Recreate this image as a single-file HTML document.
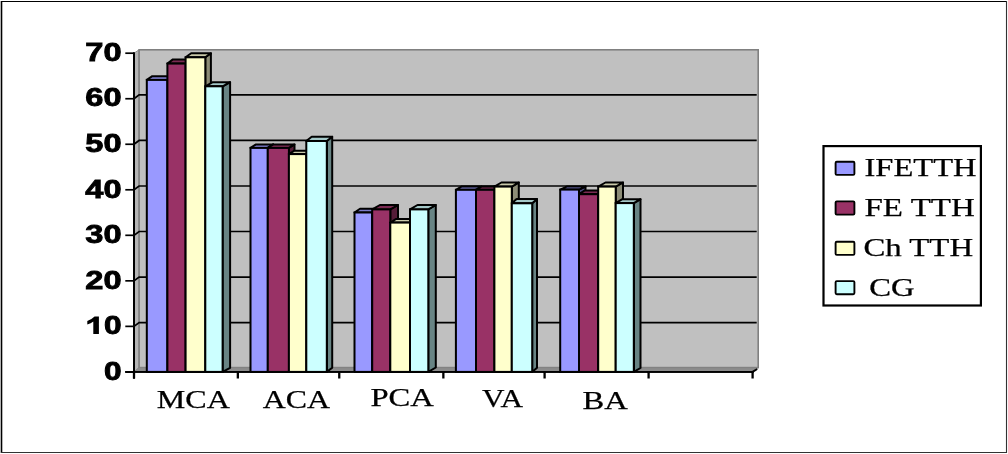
<!DOCTYPE html>
<html><head><meta charset="utf-8"><title>chart</title>
<style>html,body{margin:0;padding:0;background:#fff;}svg{display:block;}text{font-family:"Liberation Serif",serif;}</style>
</head><body>
<svg width="1008" height="454" viewBox="0 0 1008 454">
<defs><filter id="bl" x="0" y="0" width="100%" height="100%" filterUnits="userSpaceOnUse"><feGaussianBlur stdDeviation="0.45"/></filter></defs>
<g filter="url(#bl)">
<rect x="-5" y="-5" width="1018" height="464" fill="#fff"/>
<line x1="1.5" y1="1" x2="1.5" y2="453" stroke="#000" stroke-width="1.6"/>
<line x1="1" y1="1.5" x2="1007" y2="1.5" stroke="#000" stroke-width="1.2"/>
<line x1="1006.5" y1="1" x2="1006.5" y2="453" stroke="#333" stroke-width="1.1"/>
<line x1="1" y1="452.5" x2="1007" y2="452.5" stroke="#333" stroke-width="1.1"/>
<polygon points="134.0,371.9 139.1,367.6 139.1,49.8 134.0,53.2" fill="#b6b6b6" stroke="#909090" stroke-width="1"/>
<rect x="139.1" y="49.8" width="619.1" height="317.8" fill="#c0c0c0" stroke="#808080" stroke-width="1.6"/>
<polygon points="134.0,371.9 752.6,371.9 758.2,367.6 139.1,367.6" fill="#8c8c8c" stroke="#808080" stroke-width="0.8"/>
<line x1="752.6" y1="371.9" x2="757.2" y2="369.0" stroke="#000" stroke-width="1.9"/>
<polyline points="134.0,326.37 139.1,322.57 756.7,322.57" fill="none" stroke="#000" stroke-width="1.7"/>
<polyline points="134.0,280.84 139.1,277.04 756.7,277.04" fill="none" stroke="#000" stroke-width="1.7"/>
<polyline points="134.0,235.31 139.1,231.51 756.7,231.51" fill="none" stroke="#000" stroke-width="1.7"/>
<polyline points="134.0,189.79 139.1,185.99 756.7,185.99" fill="none" stroke="#000" stroke-width="1.7"/>
<polyline points="134.0,144.26 139.1,140.46 756.7,140.46" fill="none" stroke="#000" stroke-width="1.7"/>
<polyline points="134.0,98.73 139.1,94.93 756.7,94.93" fill="none" stroke="#000" stroke-width="1.7"/>
<line x1="134.0" y1="52.300000000000004" x2="134.0" y2="378.7" stroke="#000" stroke-width="2.0"/>
<line x1="125.3" y1="371.9" x2="753.5" y2="371.9" stroke="#000" stroke-width="1.9"/>
<line x1="125.3" y1="371.90" x2="134.0" y2="371.90" stroke="#000" stroke-width="1.7"/>
<line x1="125.3" y1="326.37" x2="134.0" y2="326.37" stroke="#000" stroke-width="1.7"/>
<line x1="125.3" y1="280.84" x2="134.0" y2="280.84" stroke="#000" stroke-width="1.7"/>
<line x1="125.3" y1="235.31" x2="134.0" y2="235.31" stroke="#000" stroke-width="1.7"/>
<line x1="125.3" y1="189.79" x2="134.0" y2="189.79" stroke="#000" stroke-width="1.7"/>
<line x1="125.3" y1="144.26" x2="134.0" y2="144.26" stroke="#000" stroke-width="1.7"/>
<line x1="125.3" y1="98.73" x2="134.0" y2="98.73" stroke="#000" stroke-width="1.7"/>
<line x1="125.3" y1="53.20" x2="134.0" y2="53.20" stroke="#000" stroke-width="1.7"/>
<line x1="134.00" y1="371.9" x2="134.00" y2="378.5" stroke="#000" stroke-width="2.3"/>
<line x1="237.84" y1="371.9" x2="237.84" y2="378.5" stroke="#000" stroke-width="2.3"/>
<line x1="339.25" y1="371.9" x2="339.25" y2="378.5" stroke="#000" stroke-width="2.3"/>
<line x1="443.35" y1="371.9" x2="443.35" y2="378.5" stroke="#000" stroke-width="2.3"/>
<line x1="544.60" y1="371.9" x2="544.60" y2="378.5" stroke="#000" stroke-width="2.3"/>
<line x1="648.60" y1="371.9" x2="648.60" y2="378.5" stroke="#000" stroke-width="2.3"/>
<line x1="752.60" y1="371.9" x2="752.60" y2="378.5" stroke="#000" stroke-width="2.3"/>
<polygon points="167.4,371.9 172.9,368.20 172.9,76.2 167.4,79.9" fill="#4d4d80" stroke="#000" stroke-width="2.0" stroke-linejoin="round"/>
<polygon points="146.8,79.9 152.3,76.2 172.9,76.2 167.4,79.9" fill="#7a7ac8" stroke="#000" stroke-width="2.0" stroke-linejoin="round"/>
<rect x="146.8" y="79.9" width="20.60" height="292.00" fill="#9999ff" stroke="#000" stroke-width="2.0"/>
<polygon points="185.6,371.9 191.1,367.70 191.1,59.4 185.6,63.6" fill="#551d39" stroke="#000" stroke-width="2.0" stroke-linejoin="round"/>
<polygon points="167.4,63.6 172.9,59.4 191.1,59.4 185.6,63.6" fill="#7a2a52" stroke="#000" stroke-width="2.0" stroke-linejoin="round"/>
<rect x="167.4" y="63.6" width="18.20" height="308.30" fill="#993366" stroke="#000" stroke-width="2.0"/>
<polygon points="205.3,371.9 210.9,367.80 210.9,53.2 205.3,57.3" fill="#8c8c76" stroke="#000" stroke-width="2.0" stroke-linejoin="round"/>
<polygon points="185.6,57.3 191.2,53.2 210.9,53.2 205.3,57.3" fill="#cacaaa" stroke="#000" stroke-width="2.0" stroke-linejoin="round"/>
<rect x="185.6" y="57.3" width="19.70" height="314.60" fill="#ffffcc" stroke="#000" stroke-width="2.0"/>
<polygon points="222.6,371.9 230.1,367.80 230.1,82.2 222.6,86.3" fill="#688484" stroke="#000" stroke-width="2.0" stroke-linejoin="round"/>
<polygon points="205.3,86.3 212.8,82.2 230.1,82.2 222.6,86.3" fill="#a4c8c8" stroke="#000" stroke-width="2.0" stroke-linejoin="round"/>
<rect x="205.3" y="86.3" width="17.30" height="285.60" fill="#ccffff" stroke="#000" stroke-width="2.0"/>
<polygon points="267.8,371.9 273.3,368.40 273.3,144.4 267.8,147.9" fill="#4d4d80" stroke="#000" stroke-width="2.0" stroke-linejoin="round"/>
<polygon points="250.5,147.9 256.0,144.4 273.3,144.4 267.8,147.9" fill="#7a7ac8" stroke="#000" stroke-width="2.0" stroke-linejoin="round"/>
<rect x="250.5" y="147.9" width="17.30" height="224.00" fill="#9999ff" stroke="#000" stroke-width="2.0"/>
<polygon points="288.9,371.9 294.5,368.40 294.5,144.4 288.9,147.9" fill="#551d39" stroke="#000" stroke-width="2.0" stroke-linejoin="round"/>
<polygon points="267.8,147.9 273.40000000000003,144.4 294.5,144.4 288.9,147.9" fill="#7a2a52" stroke="#000" stroke-width="2.0" stroke-linejoin="round"/>
<rect x="267.8" y="147.9" width="21.10" height="224.00" fill="#993366" stroke="#000" stroke-width="2.0"/>
<polygon points="306.3,371.9 311.8,368.50 311.8,150.7 306.3,154.1" fill="#8c8c76" stroke="#000" stroke-width="2.0" stroke-linejoin="round"/>
<polygon points="288.9,154.1 294.4,150.7 311.8,150.7 306.3,154.1" fill="#cacaaa" stroke="#000" stroke-width="2.0" stroke-linejoin="round"/>
<rect x="288.9" y="154.1" width="17.40" height="217.80" fill="#ffffcc" stroke="#000" stroke-width="2.0"/>
<polygon points="326.8,371.9 332.2,367.70 332.2,136.8 326.8,141.0" fill="#688484" stroke="#000" stroke-width="2.0" stroke-linejoin="round"/>
<polygon points="306.3,141.0 311.7,136.8 332.2,136.8 326.8,141.0" fill="#a4c8c8" stroke="#000" stroke-width="2.0" stroke-linejoin="round"/>
<rect x="306.3" y="141.0" width="20.50" height="230.90" fill="#ccffff" stroke="#000" stroke-width="2.0"/>
<polygon points="372.2,371.9 377.7,368.10 377.7,208.7 372.2,212.5" fill="#4d4d80" stroke="#000" stroke-width="2.0" stroke-linejoin="round"/>
<polygon points="354.5,212.5 360.0,208.7 377.7,208.7 372.2,212.5" fill="#7a7ac8" stroke="#000" stroke-width="2.0" stroke-linejoin="round"/>
<rect x="354.5" y="212.5" width="17.70" height="159.40" fill="#9999ff" stroke="#000" stroke-width="2.0"/>
<polygon points="390.3,371.9 398.0,367.50 398.0,205.0 390.3,209.4" fill="#551d39" stroke="#000" stroke-width="2.0" stroke-linejoin="round"/>
<polygon points="372.2,209.4 379.9,205.0 398.0,205.0 390.3,209.4" fill="#7a2a52" stroke="#000" stroke-width="2.0" stroke-linejoin="round"/>
<rect x="372.2" y="209.4" width="18.10" height="162.50" fill="#993366" stroke="#000" stroke-width="2.0"/>
<polygon points="410.0,371.9 415.5,368.40 415.5,219.1 410.0,222.6" fill="#8c8c76" stroke="#000" stroke-width="2.0" stroke-linejoin="round"/>
<polygon points="390.3,222.6 395.8,219.1 415.5,219.1 410.0,222.6" fill="#cacaaa" stroke="#000" stroke-width="2.0" stroke-linejoin="round"/>
<rect x="390.3" y="222.6" width="19.70" height="149.30" fill="#ffffcc" stroke="#000" stroke-width="2.0"/>
<polygon points="428.3,371.9 435.8,367.50 435.8,205.0 428.3,209.4" fill="#688484" stroke="#000" stroke-width="2.0" stroke-linejoin="round"/>
<polygon points="410.0,209.4 417.5,205.0 435.8,205.0 428.3,209.4" fill="#a4c8c8" stroke="#000" stroke-width="2.0" stroke-linejoin="round"/>
<rect x="410.0" y="209.4" width="18.30" height="162.50" fill="#ccffff" stroke="#000" stroke-width="2.0"/>
<polygon points="476.0,371.9 481.5,368.70 481.5,186.6 476.0,189.8" fill="#4d4d80" stroke="#000" stroke-width="2.0" stroke-linejoin="round"/>
<polygon points="455.9,189.8 461.4,186.6 481.5,186.6 476.0,189.8" fill="#7a7ac8" stroke="#000" stroke-width="2.0" stroke-linejoin="round"/>
<rect x="455.9" y="189.8" width="20.10" height="182.10" fill="#9999ff" stroke="#000" stroke-width="2.0"/>
<polygon points="494.4,371.9 499.9,368.70 499.9,186.6 494.4,189.8" fill="#551d39" stroke="#000" stroke-width="2.0" stroke-linejoin="round"/>
<polygon points="476.0,189.8 481.5,186.6 499.9,186.6 494.4,189.8" fill="#7a2a52" stroke="#000" stroke-width="2.0" stroke-linejoin="round"/>
<rect x="476.0" y="189.8" width="18.40" height="182.10" fill="#993366" stroke="#000" stroke-width="2.0"/>
<polygon points="511.8,371.9 518.8,367.80 518.8,182.5 511.8,186.6" fill="#8c8c76" stroke="#000" stroke-width="2.0" stroke-linejoin="round"/>
<polygon points="494.4,186.6 501.4,182.5 518.8,182.5 511.8,186.6" fill="#cacaaa" stroke="#000" stroke-width="2.0" stroke-linejoin="round"/>
<rect x="494.4" y="186.6" width="17.40" height="185.30" fill="#ffffcc" stroke="#000" stroke-width="2.0"/>
<polygon points="532.2,371.9 537.0,367.70 537.0,199.1 532.2,203.3" fill="#688484" stroke="#000" stroke-width="2.0" stroke-linejoin="round"/>
<polygon points="511.8,203.3 516.6,199.1 537.0,199.1 532.2,203.3" fill="#a4c8c8" stroke="#000" stroke-width="2.0" stroke-linejoin="round"/>
<rect x="511.8" y="203.3" width="20.40" height="168.60" fill="#ccffff" stroke="#000" stroke-width="2.0"/>
<polygon points="579.0,371.9 585.5,368.90 585.5,186.6 579.0,189.6" fill="#4d4d80" stroke="#000" stroke-width="2.0" stroke-linejoin="round"/>
<polygon points="560.2,189.6 566.7,186.6 585.5,186.6 579.0,189.6" fill="#7a7ac8" stroke="#000" stroke-width="2.0" stroke-linejoin="round"/>
<rect x="560.2" y="189.6" width="18.80" height="182.30" fill="#9999ff" stroke="#000" stroke-width="2.0"/>
<polygon points="598.2,371.9 603.7,368.30 603.7,190.6 598.2,194.2" fill="#551d39" stroke="#000" stroke-width="2.0" stroke-linejoin="round"/>
<polygon points="579.0,194.2 584.5,190.6 603.7,190.6 598.2,194.2" fill="#7a2a52" stroke="#000" stroke-width="2.0" stroke-linejoin="round"/>
<rect x="579.0" y="194.2" width="19.20" height="177.70" fill="#993366" stroke="#000" stroke-width="2.0"/>
<polygon points="615.7,371.9 623.0,367.80 623.0,182.5 615.7,186.6" fill="#8c8c76" stroke="#000" stroke-width="2.0" stroke-linejoin="round"/>
<polygon points="598.2,186.6 605.5,182.5 623.0,182.5 615.7,186.6" fill="#cacaaa" stroke="#000" stroke-width="2.0" stroke-linejoin="round"/>
<rect x="598.2" y="186.6" width="17.50" height="185.30" fill="#ffffcc" stroke="#000" stroke-width="2.0"/>
<polygon points="633.8,371.9 640.5,368.00 640.5,199.2 633.8,203.1" fill="#688484" stroke="#000" stroke-width="2.0" stroke-linejoin="round"/>
<polygon points="615.7,203.1 622.4000000000001,199.2 640.5,199.2 633.8,203.1" fill="#a4c8c8" stroke="#000" stroke-width="2.0" stroke-linejoin="round"/>
<rect x="615.7" y="203.1" width="18.10" height="168.80" fill="#ccffff" stroke="#000" stroke-width="2.0"/>
<line x1="125.3" y1="371.9" x2="753.5" y2="371.9" stroke="#000" stroke-width="1.9"/>
<text x="103.9" y="379.65" font-weight="bold" font-size="25" textLength="17.6" lengthAdjust="spacingAndGlyphs" stroke="#000" stroke-width="0.85" style="font-family:'Liberation Sans',sans-serif">0</text>
<text x="103.9" y="334.12" font-weight="bold" font-size="25" textLength="17.6" lengthAdjust="spacingAndGlyphs" stroke="#000" stroke-width="0.85" style="font-family:'Liberation Sans',sans-serif">0</text>
<path d="M98.9,316.57 L94.6,316.57 Q92.0,319.17 87.3,321.07 L87.3,324.47 Q91.0,323.37 93.3,321.57 L93.3,333.97 L98.9,333.97 Z" fill="#000"/>
<text x="85.3" y="288.59" font-weight="bold" font-size="25" textLength="36.2" lengthAdjust="spacingAndGlyphs" stroke="#000" stroke-width="0.85" style="font-family:'Liberation Sans',sans-serif">20</text>
<text x="85.3" y="243.06" font-weight="bold" font-size="25" textLength="36.2" lengthAdjust="spacingAndGlyphs" stroke="#000" stroke-width="0.85" style="font-family:'Liberation Sans',sans-serif">30</text>
<text x="85.3" y="197.54" font-weight="bold" font-size="25" textLength="36.2" lengthAdjust="spacingAndGlyphs" stroke="#000" stroke-width="0.85" style="font-family:'Liberation Sans',sans-serif">40</text>
<text x="85.3" y="152.01" font-weight="bold" font-size="25" textLength="36.2" lengthAdjust="spacingAndGlyphs" stroke="#000" stroke-width="0.85" style="font-family:'Liberation Sans',sans-serif">50</text>
<text x="85.3" y="106.48" font-weight="bold" font-size="25" textLength="36.2" lengthAdjust="spacingAndGlyphs" stroke="#000" stroke-width="0.85" style="font-family:'Liberation Sans',sans-serif">60</text>
<text x="85.3" y="60.95" font-weight="bold" font-size="25" textLength="36.2" lengthAdjust="spacingAndGlyphs" stroke="#000" stroke-width="0.85" style="font-family:'Liberation Sans',sans-serif">70</text>
<text x="156.8" y="407.8" font-size="26" textLength="73.1" lengthAdjust="spacingAndGlyphs" stroke="#000" stroke-width="0.25">MCA</text>
<text x="262.7" y="407.8" font-size="26" textLength="67.2" lengthAdjust="spacingAndGlyphs" stroke="#000" stroke-width="0.25">ACA</text>
<text x="370.4" y="405.7" font-size="26" textLength="63.4" lengthAdjust="spacingAndGlyphs" stroke="#000" stroke-width="0.25">PCA</text>
<text x="481.9" y="406.5" font-size="26" textLength="41.0" lengthAdjust="spacingAndGlyphs" stroke="#000" stroke-width="0.25">VA</text>
<text x="582.6" y="408.9" font-size="26" textLength="45.3" lengthAdjust="spacingAndGlyphs" stroke="#000" stroke-width="0.25">BA</text>
<rect x="823.5" y="146.1" width="157.4" height="159.4" fill="#fff" stroke="#000" stroke-width="2.2"/>
<rect x="835.6" y="161.7" width="18.8" height="13.2" rx="1.2" fill="#9999ff" stroke="#000" stroke-width="1.9"/>
<text x="864.5" y="176.1" font-size="26" textLength="112.0" lengthAdjust="spacingAndGlyphs" stroke="#000" stroke-width="0.25">IFETTH</text>
<rect x="835.6" y="201.4" width="18.8" height="13.2" rx="1.2" fill="#993366" stroke="#000" stroke-width="1.9"/>
<text x="864.5" y="215.9" font-size="26" textLength="110.3" lengthAdjust="spacingAndGlyphs" stroke="#000" stroke-width="0.25">FE TTH</text>
<rect x="835.6" y="241.7" width="18.8" height="13.2" rx="1.2" fill="#ffffcc" stroke="#000" stroke-width="1.9"/>
<text x="863.4" y="256.1" font-size="26" textLength="109.7" lengthAdjust="spacingAndGlyphs" stroke="#000" stroke-width="0.25">Ch TTH</text>
<rect x="835.6" y="281.1" width="18.8" height="13.2" rx="1.2" fill="#ccffff" stroke="#000" stroke-width="1.9"/>
<text x="869.2" y="295.7" font-size="26" textLength="45.4" lengthAdjust="spacingAndGlyphs" stroke="#000" stroke-width="0.25">CG</text>
</g>
</svg>
</body></html>
